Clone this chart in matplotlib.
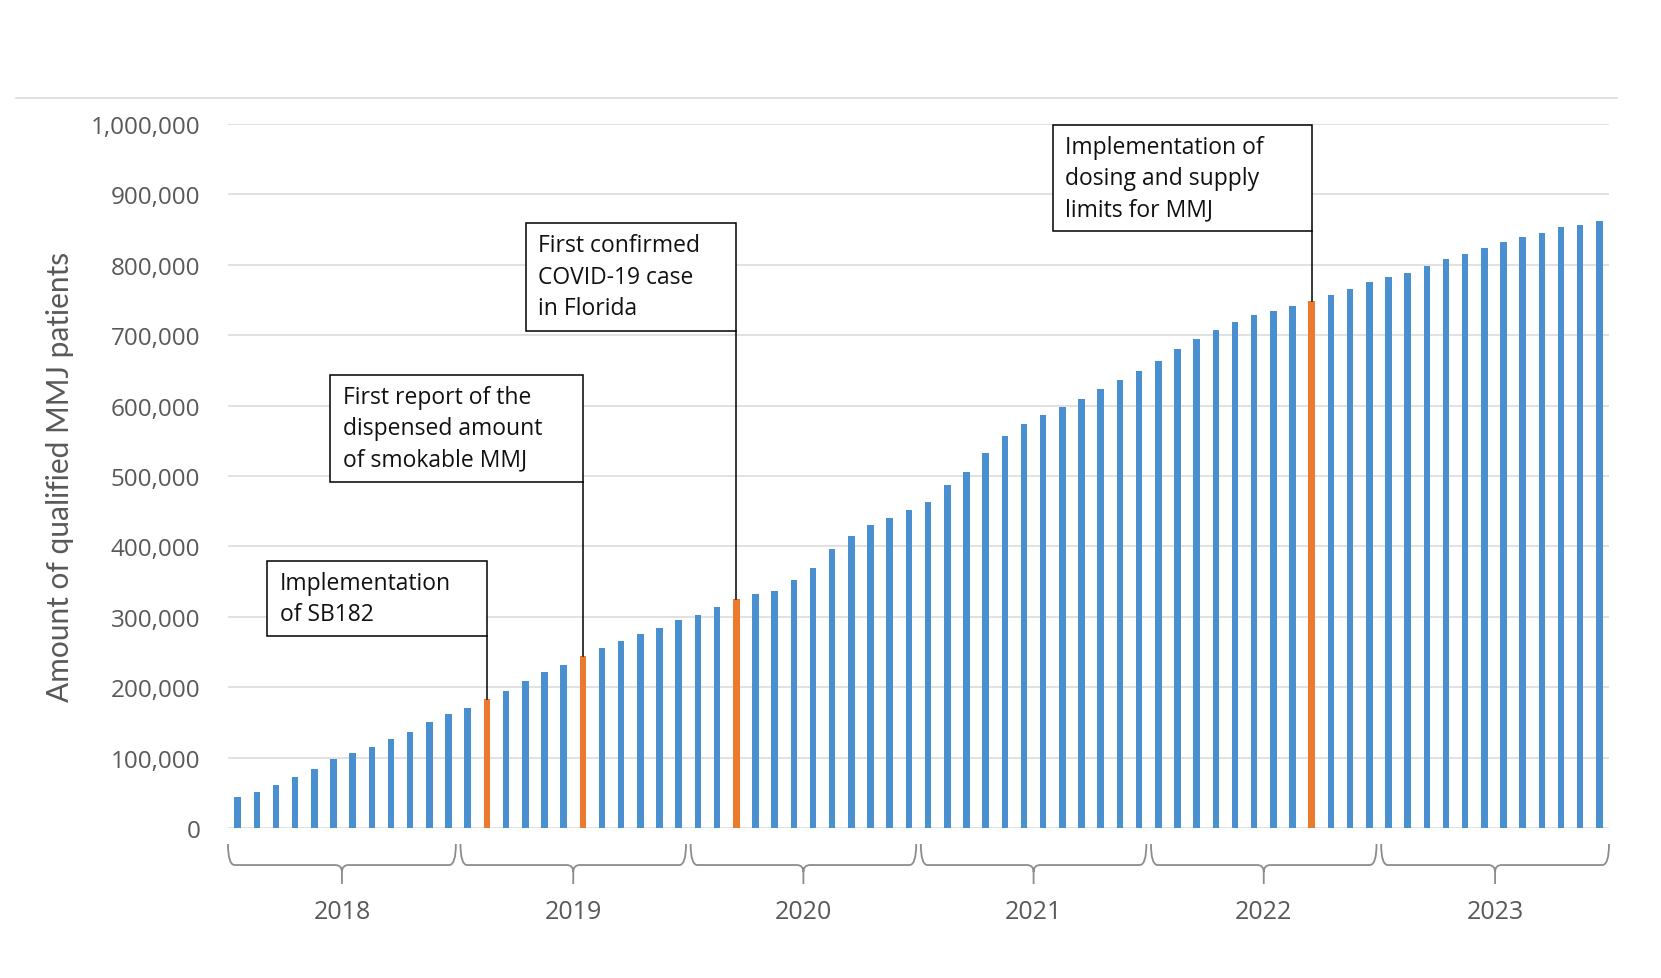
import numpy as np
import matplotlib.pyplot as plt
from matplotlib.path import Path
from matplotlib.patches import PathPatch, Rectangle
from matplotlib.lines import Line2D
from matplotlib.ticker import FuncFormatter

# monthly number of qualified MMJ patients, Jan 2018 - Dec 2023 (thousands)
patients_k = [44, 51, 61, 72, 84, 98, 106, 115, 126, 136, 150, 162,
              171, 183, 195, 209, 221, 232, 244, 256, 266, 275, 284, 296,
              302, 314, 325, 333, 337, 352, 370, 396, 415, 431, 440, 452,
              463, 487, 506, 532, 557, 574, 586, 598, 609, 623, 637, 649,
              663, 680, 694, 708, 719, 729, 735, 741, 749, 757, 766, 776,
              782, 789, 799, 808, 815, 824, 832, 840, 845, 853, 856, 862]
years = ["2018", "2019", "2020", "2021", "2022", "2023"]

# events (bar index of the month)
event_idx = [13, 18, 26, 56]
event_text = ["Implementation\nof SB182",
              "First report of the\ndispensed amount\nof smokable MMJ",
              "First confirmed\nCOVID-19 case\nin Florida",
              "Implementation of\ndosing and supply\nlimits for MMJ"]
# box placement: left edge (bar units), top and bottom (patients)
box_left = [1.54, 4.83, 15.03, 42.5]
box_top = [379000, 643500, 859000, 998600]
box_bottom = [272700, 491500, 706000, 848000]

blue = "#4a8fd0"
orange = "#ec7a2e"
gray_txt = "#595959"
grid_c = "#d9d9d9"

patients = np.array(patients_k) * 1000
x = np.arange(len(patients))
colors = [orange if i in event_idx else blue for i in x]

fig = plt.figure(figsize=(16.61, 9.79), dpi=100)
ax = fig.add_axes([228/1661, 1-829/979, (1609-228)/1661, (829-125)/979])

ax.bar(x, patients, width=0.34, color=colors, zorder=3)

ax.set_xlim(-0.5, len(x)-0.5)
ax.set_ylim(0, 1000000)
ax.set_yticks(np.arange(0, 1000001, 100000))
ax.yaxis.set_major_formatter(FuncFormatter(lambda v, p: "{:,.0f}".format(v)))
ax.tick_params(axis="y", length=0, pad=20, labelsize=17.5, labelcolor=gray_txt)
for lab in ax.get_yticklabels():
    lab.set_family("Open Sans")
ax.set_xticks([])
ax.grid(axis="y", color=grid_c, lw=1.1, zorder=0)
for s in ax.spines.values():
    s.set_visible(False)

# year braces under the axis
trans = ax.get_xaxis_transform()
y_top, y_h, y_tip = -0.0227, -0.0526, -0.0795
d = 0.35
for g, yr in enumerate(years):
    x0 = 12*g - 0.5 + (0.0 if g == 0 else 0.12)
    x1 = 12*g + 11.5 - (0.0 if g == len(years)-1 else 0.12)
    xc = (x0 + x1) / 2
    verts = [(x0, y_top), (x0, y_h), (x0+d, y_h),
             (xc-d, y_h), (xc, y_h), (xc, y_h-0.01), (xc, y_tip),
             (xc, y_h-0.01), (xc, y_h), (xc+d, y_h),
             (x1-d, y_h), (x1, y_h), (x1, y_top)]
    codes = [Path.MOVETO, Path.CURVE3, Path.CURVE3,
             Path.LINETO, Path.CURVE3, Path.CURVE3, Path.LINETO,
             Path.MOVETO, Path.CURVE3, Path.CURVE3,
             Path.LINETO, Path.CURVE3, Path.CURVE3]
    ax.add_patch(PathPatch(Path(verts, codes), transform=trans, fill=False,
                           edgecolor="#8c8c8c", lw=1.3, clip_on=False))
    ax.text(xc, -0.118, yr, transform=trans, ha="center", va="center",
            fontsize=18, color=gray_txt, family="Open Sans")

# event boxes with leader lines
for i, idx in enumerate(event_idx):
    ax.plot([idx, idx], [patients[idx], box_bottom[i]], color="black", lw=1.1, zorder=4)
    ax.add_patch(Rectangle((box_left[i], box_bottom[i]), idx - box_left[i],
                           box_top[i] - box_bottom[i], facecolor="white",
                           edgecolor="black", lw=1.1, zorder=5))
    ax.annotate(event_text[i], xy=(box_left[i], box_top[i]), xytext=(9, -7),
                textcoords="offset points", ha="left", va="top", fontsize=16.5,
                family="Open Sans", linespacing=1.42, color="#111111", zorder=6)

fig.text(60/1661, 1-477/979, "Amount of qualified MMJ patients", rotation=90,
         ha="center", va="center", fontsize=21.5, color=gray_txt, family="Lato")
fig.add_artist(Line2D([16/1661, 1617/1661], [1-99/979, 1-99/979], color=grid_c, lw=1.1))

fig.savefig("out.png", dpi=100, facecolor="white")
